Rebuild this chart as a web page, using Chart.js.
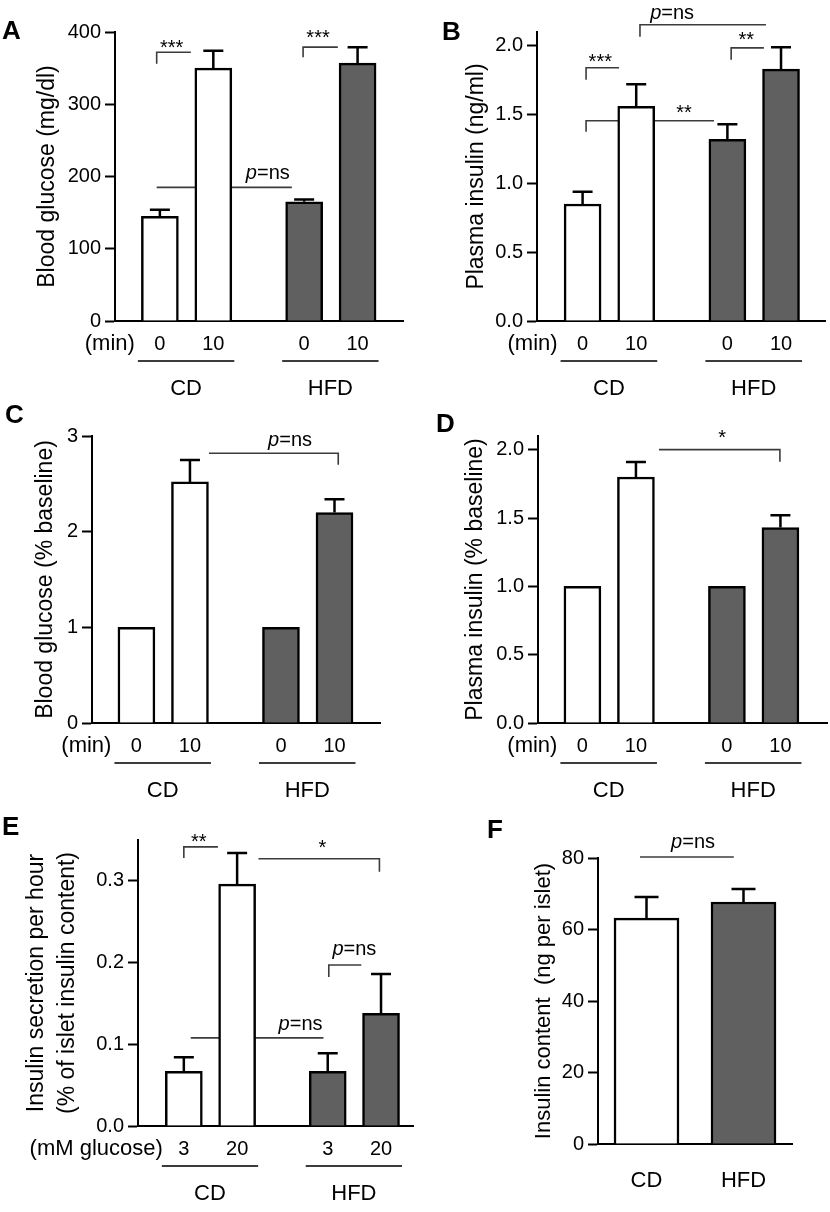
<!DOCTYPE html>
<html>
<head>
<meta charset="utf-8">
<script src="https://cdn.jsdelivr.net/npm/chart.js@4.4.1/dist/chart.umd.min.js"></script>
<style>
body { margin: 0; background: #fff; }
#fig { position: relative; width: 830px; height: 1212px; }
#fig canvas { position: absolute; }
</style>
</head>
<body>
<div id="fig"></div>
<script>
// bar labels under each panel (A-E) and the diet group of each bar
var timeLabels = ['0', '10', '0', '10'];
var glucoseConc = ['3', '20', '3', '20'];
var groups = ['CD', 'CD', 'HFD', 'HFD'];
var dietLabels = ['CD', 'HFD'];

// A: blood glucose (mg/dl), mean and SEM
var glucose = [145, 350, 165, 357];
var glucoseErr = [9, 24, 3, 22];
// B: plasma insulin (ng/ml)
var insulin = [0.85, 1.56, 1.32, 1.83];
var insulinErr = [0.09, 0.16, 0.11, 0.16];
// C: blood glucose relative to baseline
var glucoseRel = [1, 2.52, 1, 2.2];
var glucoseRelErr = [0, 0.23, 0, 0.14];
// D: plasma insulin relative to baseline
var insulinRel = [1, 1.8, 1, 1.43];
var insulinRelErr = [0, 0.11, 0, 0.09];
// E: insulin secretion per hour (% of islet content)
var secretion = [0.067, 0.296, 0.067, 0.138];
var secretionErr = [0.017, 0.038, 0.022, 0.048];
// F: insulin content (ng per islet)
var content = [63.2, 67.7];
var contentErr = [5.9, 3.6];

// x slot of each bar on the linear axis (pairs with a wider gap between diets)
var slotX = [1, 2, 3.7, 4.7];

var FONT = "'Liberation Sans', Arial, Helvetica, sans-serif";
var INK = '#000';
var LINE = '#3c3c3c';
var HFD_FILL = '#606060';

Chart.defaults.font.family = FONT;
Chart.defaults.color = INK;

var panels = [
    {
        letter: 'A', lx: 2, ly: 39,
        box: [0, 0, 415, 400], area: [115, 32, 403, 321],
        mean: glucose, err: glucoseErr, ticks: timeLabels, unit: '(min)', unitGap: 25,
        xRange: [0.16, 5.55], yMax: 400, step: 100, dec: 0,
        title: 'Blood glucose (mg/dl)', titleX: 48, titleSize: 23,
        marks: [
            { pts: [[0.94, 356], [0.94, 372], [1.58, 372]], text: '***', tx: 1.22, ty: 370 },
            { pts: [[3.68, 365], [3.68, 379], [4.33, 379]], text: '***', tx: 3.96, ty: 383 },
            { pts: [[0.94, 185], [3.47, 185]], behind: true, text: 'p=ns', tx: 3.02, ty: 197 }
        ]
    },
    {
        letter: 'B', lx: 442, ly: 40,
        box: [415, 0, 830, 400], area: [537, 32, 825, 321],
        mean: insulin, err: insulinErr, ticks: timeLabels, unit: '(min)', unitGap: 25,
        xRange: [0.15, 5.52], yMax: 2.1, step: 0.5, dec: 1,
        title: 'Plasma insulin (ng/ml)', titleX: 62, titleSize: 23,
        marks: [
            { pts: [[1.065, 1.753], [1.065, 1.84], [1.68, 1.84]], text: '***', tx: 1.33, ty: 1.836 },
            { pts: [[3.77, 1.898], [3.77, 1.985], [4.38, 1.985]], text: '**', tx: 4.05, ty: 1.996 },
            { pts: [[2.07, 2.065], [2.07, 2.153], [4.42, 2.153]], text: 'p=ns', tx: 2.67, ty: 2.196 },
            { pts: [[1.065, 1.375], [1.065, 1.455], [3.45, 1.455]], behind: true, text: '**', tx: 2.89, ty: 1.465 }
        ]
    },
    {
        letter: 'C', lx: 5, ly: 423,
        box: [0, 400, 415, 810], area: [92, 436, 380, 723],
        mean: glucoseRel, err: glucoseRelErr, ticks: timeLabels, unit: '(min)', unitGap: 25,
        xRange: [0.17, 5.55], yMax: 3, step: 1, dec: 0,
        title: 'Blood glucose (% baseline)', titleX: 46, titleSize: 23,
        marks: [
            { pts: [[2.355, 2.82], [4.77, 2.82], [4.77, 2.70]], text: 'p=ns', tx: 3.87, ty: 2.894 }
        ]
    },
    {
        letter: 'D', lx: 436, ly: 432,
        box: [415, 400, 830, 810], area: [538, 436, 827, 723],
        mean: insulinRel, err: insulinRelErr, ticks: timeLabels, unit: '(min)', unitGap: 25,
        xRange: [0.17, 5.57], yMax: 2.1, step: 0.5, dec: 1,
        title: 'Plasma insulin (% baseline)', titleX: 61, titleSize: 23,
        marks: [
            { pts: [[2.43, 2.0], [4.69, 2.0], [4.69, 1.912]], text: '*', tx: 3.61, ty: 2.04 }
        ]
    },
    {
        letter: 'E', lx: 2, ly: 835,
        box: [0, 810, 415, 1212], area: [138, 840, 413, 1126],
        mean: secretion, err: secretionErr, ticks: glucoseConc, unit: '(mM glucose)', unitGap: 21,
        xRange: [0.14, 5.3], yMax: 0.35, step: 0.1, dec: 1,
        title: ['Insulin secretion per hour', '(% of islet insulin content)'], titleX: 37, titleSize: 23, titleLH: 1.35,
        marks: [
            { pts: [[1.0, 0.328], [1.0, 0.3416], [1.64, 0.3416]], text: '**', tx: 1.28, ty: 0.3397 },
            { pts: [[2.40, 0.327], [4.67, 0.327], [4.67, 0.311]], text: '*', tx: 3.60, ty: 0.3323 },
            { pts: [[3.72, 0.1824], [3.72, 0.197], [4.33, 0.197]], text: 'p=ns', tx: 4.20, ty: 0.2094 },
            { pts: [[1.13, 0.1078], [3.62, 0.1078]], behind: true, text: 'p=ns', tx: 3.19, ty: 0.1175 }
        ]
    },
    {
        letter: 'F', lx: 487, ly: 838,
        box: [415, 810, 830, 1212], area: [598, 858, 792, 1144],
        mean: content, err: contentErr, labels: dietLabels, category: true,
        yMax: 80, step: 20, dec: 0, barW: 65, cap: 24,
        title: 'Insulin content  (ng per islet)', titleX: 129, titleSize: 22,
        marks: [
            { pts: [[-0.067, 80.3], [0.90, 80.3]], text: 'p=ns', tx: 0.48, ty: 82.8 }
        ]
    }
];

function drawText(ctx, text, x, y, size) {
    var normal = size + 'px ' + FONT;
    ctx.textBaseline = 'alphabetic';
    if (text.indexOf('p=') === 0) {
        var italic = 'italic ' + normal;
        ctx.font = italic;
        var w1 = ctx.measureText('p').width;
        ctx.font = normal;
        var w2 = ctx.measureText(text.slice(1)).width;
        var x0 = x - (w1 + w2) / 2;
        ctx.textAlign = 'left';
        ctx.font = italic;
        ctx.fillText('p', x0, y);
        ctx.font = normal;
        ctx.fillText(text.slice(1), x0 + w1, y);
    } else {
        ctx.font = normal;
        ctx.textAlign = 'center';
        ctx.fillText(text, x, y);
    }
}

function drawLines(chart, p, behind) {
    var ctx = chart.ctx, xs = chart.scales.x, ys = chart.scales.y;
    ctx.save();
    ctx.strokeStyle = LINE;
    ctx.lineWidth = 1.6;
    p.marks.forEach(function (m) {
        if (!!m.behind !== behind) return;
        ctx.beginPath();
        m.pts.forEach(function (pt, i) {
            var px = xs.getPixelForValue(pt[0]), py = ys.getPixelForValue(pt[1]);
            if (i) ctx.lineTo(px, py); else ctx.moveTo(px, py);
        });
        ctx.stroke();
    });
    ctx.restore();
}

function drawLabels(chart, p) {
    var ctx = chart.ctx, xs = chart.scales.x, ys = chart.scales.y;
    ctx.save();
    ctx.fillStyle = INK;
    p.marks.forEach(function (m) {
        drawText(ctx, m.text, xs.getPixelForValue(m.tx), ys.getPixelForValue(m.ty), 20);
    });
    ctx.restore();
}

function drawErrors(chart, p) {
    var ctx = chart.ctx, ys = chart.scales.y;
    var cap = p.cap || 20;
    ctx.save();
    ctx.strokeStyle = INK;
    ctx.lineWidth = 2.5;
    chart.getDatasetMeta(0).data.forEach(function (bar, i) {
        var e = p.err[i];
        if (!e) return;
        var top = ys.getPixelForValue(p.mean[i] + e);
        ctx.beginPath();
        ctx.moveTo(bar.x, bar.y);
        ctx.lineTo(bar.x, top);
        ctx.moveTo(bar.x - cap / 2, top);
        ctx.lineTo(bar.x + cap / 2, top);
        ctx.stroke();
    });
    ctx.restore();
}

function drawGroupRow(chart, p) {
    var ctx = chart.ctx, xs = chart.scales.x, bottom = chart.chartArea.bottom;
    ctx.save();
    ctx.font = '22px ' + FONT;
    ctx.fillStyle = INK;
    ctx.textBaseline = 'middle';
    ctx.textAlign = 'right';
    ctx.fillText(p.unit, xs.getPixelForValue(slotX[0]) - p.unitGap, bottom + 23);
    ctx.strokeStyle = LINE;
    ctx.lineWidth = 2;
    dietLabels.forEach(function (g) {
        var idx = [];
        groups.forEach(function (v, i) { if (v === g) idx.push(i); });
        var x1 = xs.getPixelForValue(slotX[idx[0]]) - 22;
        var x2 = xs.getPixelForValue(slotX[idx[idx.length - 1]]) + 21;
        ctx.beginPath();
        ctx.moveTo(x1, bottom + 40);
        ctx.lineTo(x2, bottom + 40);
        ctx.stroke();
        ctx.textAlign = 'center';
        ctx.fillText(g, (x1 + x2) / 2, bottom + 68);
    });
    ctx.restore();
}

function makeExtras(p) {
    return {
        id: 'extras' + p.letter,
        beforeDatasetsDraw: function (chart) { drawLines(chart, p, true); },
        afterDatasetsDraw: function (chart) {
            drawErrors(chart, p);
            drawLines(chart, p, false);
            drawLabels(chart, p);
            if (p.unit) drawGroupRow(chart, p);
            var ctx = chart.ctx;
            ctx.save();
            ctx.font = 'bold 26px ' + FONT;
            ctx.fillStyle = INK;
            ctx.textAlign = 'left';
            ctx.textBaseline = 'alphabetic';
            ctx.fillText(p.letter, p.lx - p.box[0], p.ly - p.box[1]);
            ctx.restore();
        }
    };
}

var fig = document.getElementById('fig');

panels.forEach(function (p) {
    var l = p.box[0], t = p.box[1], r = p.box[2], b = p.box[3];
    var cv = document.createElement('canvas');
    cv.width = r - l;
    cv.height = b - t;
    cv.style.left = l + 'px';
    cv.style.top = t + 'px';
    fig.appendChild(cv);

    var colors = p.category
        ? dietLabels.map(function (g) { return g === 'CD' ? '#fff' : HFD_FILL; })
        : groups.map(function (g) { return g === 'CD' ? '#fff' : HFD_FILL; });
    var data = p.category ? p.mean : p.mean.map(function (v, i) { return { x: slotX[i], y: v }; });

    var titleLH = p.titleLH || 1.2;
    // height of the x axis box; its tick labels are clipped to it
    var xH = p.category ? 56 : 44;

    var xScale;
    if (p.category) {
        xScale = {
            type: 'category',
            ticks: { font: { size: 22 }, color: INK, padding: 24 },
            grid: { drawOnChartArea: false, drawTicks: false },
            border: { color: INK, width: 2 },
            afterFit: function (s) { s.height = xH; }
        };
    } else {
        xScale = {
            type: 'linear',
            offset: false,
            min: p.xRange[0],
            max: p.xRange[1],
            afterBuildTicks: function (s) {
                s.ticks = slotX.map(function (v) { return { value: v }; });
            },
            ticks: {
                autoSkip: false,
                maxRotation: 0,
                padding: 11,
                font: { size: 20 },
                color: INK,
                callback: function (v, i) { return p.ticks[i]; }
            },
            grid: { drawOnChartArea: false, drawTicks: false },
            border: { color: INK, width: 2 },
            afterFit: function (s) { s.height = xH; }
        };
    }

    new Chart(cv, {
        type: 'bar',
        data: {
            labels: p.category ? p.labels : undefined,
            datasets: [{
                data: data,
                backgroundColor: colors,
                borderColor: INK,
                borderWidth: 2.5,
                barThickness: p.barW || 37
            }]
        },
        options: {
            responsive: false,
            animation: false,
            devicePixelRatio: 1,
            layout: {
                padding: { left: 0, top: p.area[1] - t, right: r - p.area[2], bottom: b - p.area[3] - xH }
            },
            plugins: {
                legend: { display: false },
                tooltip: { enabled: false }
            },
            scales: {
                x: xScale,
                y: {
                    min: 0,
                    max: p.yMax,
                    ticks: {
                        stepSize: p.step,
                        includeBounds: false,
                        padding: 4,
                        font: { size: 20 },
                        color: INK,
                        callback: function (v) { return Number(v).toFixed(p.dec); }
                    },
                    grid: { drawOnChartArea: false, drawTicks: true, tickLength: 10, tickColor: INK, tickWidth: 2 },
                    border: { color: INK, width: 2 },
                    title: {
                        display: true,
                        text: p.title,
                        color: INK,
                        font: { size: p.titleSize, lineHeight: titleLH },
                        padding: { top: p.titleX - p.titleSize * titleLH / 2, bottom: 0 }
                    },
                    afterFit: function (s) { s.width = p.area[0] - l; }
                }
            }
        },
        plugins: [makeExtras(p)]
    });
});
</script>
</body>
</html>
